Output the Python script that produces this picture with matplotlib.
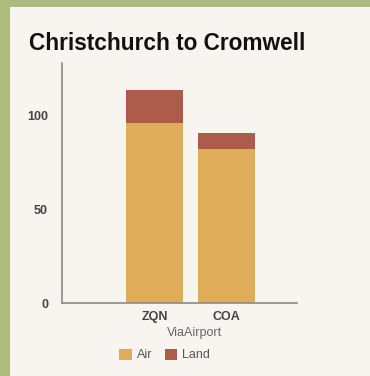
import matplotlib.pyplot as plt
from matplotlib.patches import Rectangle

airports = ["ZQN", "COA"]
air = [96, 82]
land = [17.5, 8.7]
yticks = [0, 50, 100]

W, H = 370, 376
fig = plt.figure(figsize=(W / 100, H / 100), dpi=100, facecolor="#adbc7e")
fig.patches.append(Rectangle((10 / W, 0), 1, 1 - 7 / H, transform=fig.transFigure,
                             facecolor="#f8f5f0", edgecolor="none", zorder=-10))

ax = fig.add_axes([62 / W, 1 - 303 / H, 235 / W, 240 / H])
ax.set_facecolor("none")

x = list(range(len(airports)))
b1 = ax.bar(x, air, width=0.79, color="#dfad5a", label="Air")
b2 = ax.bar(x, land, width=0.79, bottom=air, color="#ad5b4a", label="Land")

ax.set_xlim(-1.285, 1.976)
ax.set_ylim(0, 128)
ax.set_xticks(x)
ax.set_xticklabels(airports, fontweight="bold", fontsize=9, color="#444444", family="Liberation Sans")
ax.set_yticks(yticks)
ax.set_yticklabels([str(v) for v in yticks], fontweight="bold", fontsize=9, color="#444444", family="Liberation Sans")
ax.tick_params(length=0)
ax.tick_params(axis="y", pad=10)
ax.tick_params(axis="x", pad=6)
for s in ["top", "right"]:
    ax.spines[s].set_visible(False)
for s in ["left", "bottom"]:
    ax.spines[s].set_color("#8a8a8a")
    ax.spines[s].set_linewidth(1.2)

fig.text(195 / W, 1 - 333 / H, "ViaAirport", ha="center", va="center",
         fontsize=9, color="#666666", family="Liberation Sans")
fig.text(29 / W, 1 - 44 / H, "Christchurch to Cromwell", ha="left", va="center",
         fontsize=16.3, fontweight="bold", color="#111111", family="Liberation Sans")

fig.legend(handles=[b1, b2], loc="center left", bbox_to_anchor=(108 / W, 1 - 355 / H),
           ncol=2, frameon=False, handlelength=1.0, handleheight=1.0,
           handletextpad=0.4, columnspacing=1.0, labelcolor="#555555",
           prop={"family": "Liberation Sans", "size": 9})

fig.savefig("out.png", dpi=100, facecolor=fig.get_facecolor())
